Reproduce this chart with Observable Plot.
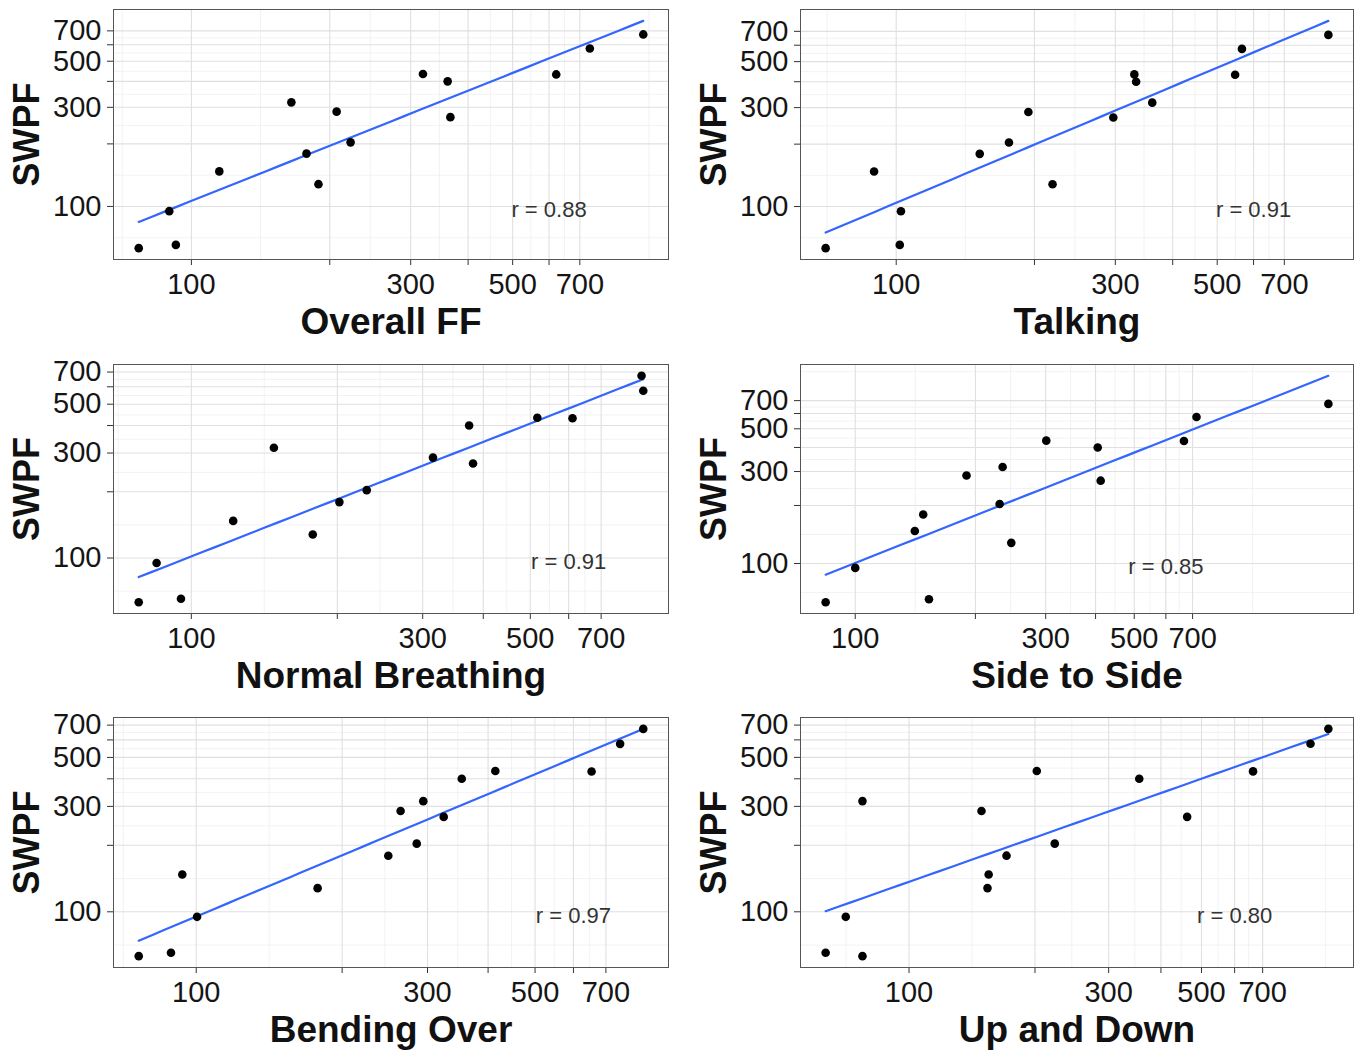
<!DOCTYPE html>
<html><head><meta charset="utf-8">
<script src="https://cdn.jsdelivr.net/npm/d3@7"></script>
<script src="https://cdn.jsdelivr.net/npm/@observablehq/plot@0.6"></script>
<style>
body{margin:0;background:#fff;}
#root{position:relative;width:1363px;height:1053px;overflow:hidden;background:#fff;}
.panel{position:absolute;}
</style></head><body><div id="root"></div>
<script>
// SWPF values (same subjects in every panel), order A..O
const swpf = [63, 65.3, 94.9, 128, 147.5, 179.5, 203.5, 269, 286, 317, 400, 434, 432, 576, 673];
// Comparison method values, same subject order
const overallFF      = [76.8, 92.5, 89.5, 189, 115, 178, 222, 366, 207, 165, 361, 319, 622, 736, 962];
const talking        = [70.2, 101.8, 102.4, 219, 89.5, 152, 176, 297, 194, 361, 333, 330, 547, 566, 873];
const normalBreathing= [77.9, 95.2, 84.8, 178, 122, 202, 230, 381, 315, 148, 374, 517, 611, 855, 848];
const sideToSide     = [84.3, 153, 100, 246, 141, 148, 230, 412, 190, 234, 405, 301, 666, 716, 1532];
const bendingOver    = [76.1, 88.7, 100.4, 178, 93.6, 249, 285, 324, 264, 294, 353, 414, 654, 749, 836];
const upAndDown      = [77.4, 63.2, 70.6, 154, 155, 171, 223, 462, 149, 77.4, 355, 202, 664, 911, 1005];

const panelTitles = ["Overall FF", "Talking", "Normal Breathing", "Side to Side", "Bending Over", "Up and Down"];
const rLabels = ["r = 0.88", "r = 0.91", "r = 0.91", "r = 0.85", "r = 0.97", "r = 0.80"];
const yTitle = "SWPF";
const breaks = [100, 200, 300, 400, 500, 600, 700];
const labeledBreaks = [100, 300, 500, 700];
const rLabelX = 600, rLabelY = 96;

const series = [overallFF, talking, normalBreathing, sideToSide, bendingOver, upAndDown];

const FONT = '"Liberation Sans", Arial, Helvetica, sans-serif';
const cols = [{left: 0, width: 680, ml: 113, mr: 12}, {left: 681, width: 682, ml: 119, mr: 10}];
const rows = [{top: 0, height: 350, mt: 9, mb: 91}, {top: 350, height: 353, mt: 14, mb: 90}, {top: 703, height: 350, mt: 14, mb: 86}];

function expandLog([a, b]) {
  const la = Math.log10(a), lb = Math.log10(b), e = (lb - la) * 0.05;
  return [10 ** (la - e), 10 ** (lb + e)];
}
function minorBreaks(dom) {
  const lb = breaks.map(Math.log10);
  const bd = lb[1] - lb[0];
  const ext = [lb[0] - bd, ...lb, lb[lb.length - 1] + bd];
  const out = [];
  for (let k = 0; k < ext.length - 1; k++) out.push(10 ** ((ext[k] + ext[k + 1]) / 2));
  return out.filter(v => v > dom[0] && v < dom[1]);
}

const root = document.getElementById("root");
series.forEach((xs, i) => {
  const col = cols[i % 2], row = rows[Math.floor(i / 2)];
  const data = xs.map((x, j) => ({x, y: swpf[j]}));
  const lx = xs.map(Math.log10), ly = swpf.map(Math.log10);
  const mx = d3.mean(lx), my = d3.mean(ly);
  const slope = d3.sum(lx.map((v, k) => (v - mx) * (ly[k] - my))) / d3.sum(lx.map(v => (v - mx) ** 2));
  const icpt = my - slope * mx;
  const [x0, x1] = d3.extent(xs);
  const fit = d3.range(0, 41).map(k => {
    const lxv = Math.log10(x0) + (Math.log10(x1) - Math.log10(x0)) * k / 40;
    return {x: 10 ** lxv, y: 10 ** (icpt + slope * lxv)};
  });
  const xDom = expandLog([x0, x1]);
  const yDom = expandLog(d3.extent([...swpf, ...fit.map(d => d.y)]));

  const chart = Plot.plot({
    width: col.width, height: row.height,
    marginLeft: col.ml, marginRight: col.mr, marginTop: row.mt, marginBottom: row.mb,
    style: {fontFamily: FONT, background: "white", overflow: "visible"},
    x: {type: "log", domain: xDom, axis: null},
    y: {type: "log", domain: yDom, axis: null},
    marks: [
      Plot.ruleY(minorBreaks(yDom), {stroke: "#efefef", strokeWidth: 0.8}),
      Plot.ruleX(minorBreaks(xDom), {stroke: "#efefef", strokeWidth: 0.8}),
      Plot.ruleY(breaks, {stroke: "#e0e0e0", strokeWidth: 1.1}),
      Plot.ruleX(breaks, {stroke: "#e0e0e0", strokeWidth: 1.1}),
      Plot.line(fit, {x: "x", y: "y", stroke: "#3366FF", strokeWidth: 2.2}),
      Plot.dot(data, {x: "x", y: "y", r: 4.3, fill: "black", stroke: "none"}),
      Plot.text([{x: rLabelX, y: rLabelY, t: rLabels[i]}], {x: "x", y: "y", text: "t", fontSize: 22, fill: "#333", textAnchor: "middle", lineAnchor: "middle"}),
      Plot.axisX(breaks, {anchor: "bottom", tickFormat: () => "", tickSize: 6, color: "#333", label: null}),
      Plot.axisY(breaks, {anchor: "left", tickFormat: () => "", tickSize: 6, color: "#333", label: null}),
      Plot.text(labeledBreaks, {x: d => d, frameAnchor: "bottom", dy: 25, textAnchor: "middle", lineAnchor: "middle", fontSize: 29, fill: "#151515"}),
      Plot.text(labeledBreaks, {y: d => d, frameAnchor: "left", dx: -12, textAnchor: "end", lineAnchor: "middle", fontSize: 29, fill: "#151515"}),
      Plot.text([panelTitles[i]], {frameAnchor: "bottom", dy: 63, fontSize: 37, fontWeight: "bold", fill: "#111", textAnchor: "middle", lineAnchor: "middle"}),
      Plot.text([yTitle], {frameAnchor: "left", dx: -86, rotate: -90, fontSize: 36, fontWeight: "bold", fill: "#111", textAnchor: "middle", lineAnchor: "middle"}),
      Plot.frame({stroke: "#555", strokeWidth: 1})
    ]
  });
  chart.classList.add("panel");
  chart.style.left = col.left + "px";
  chart.style.top = row.top + "px";
  root.appendChild(chart);
});
</script>
</body></html>
